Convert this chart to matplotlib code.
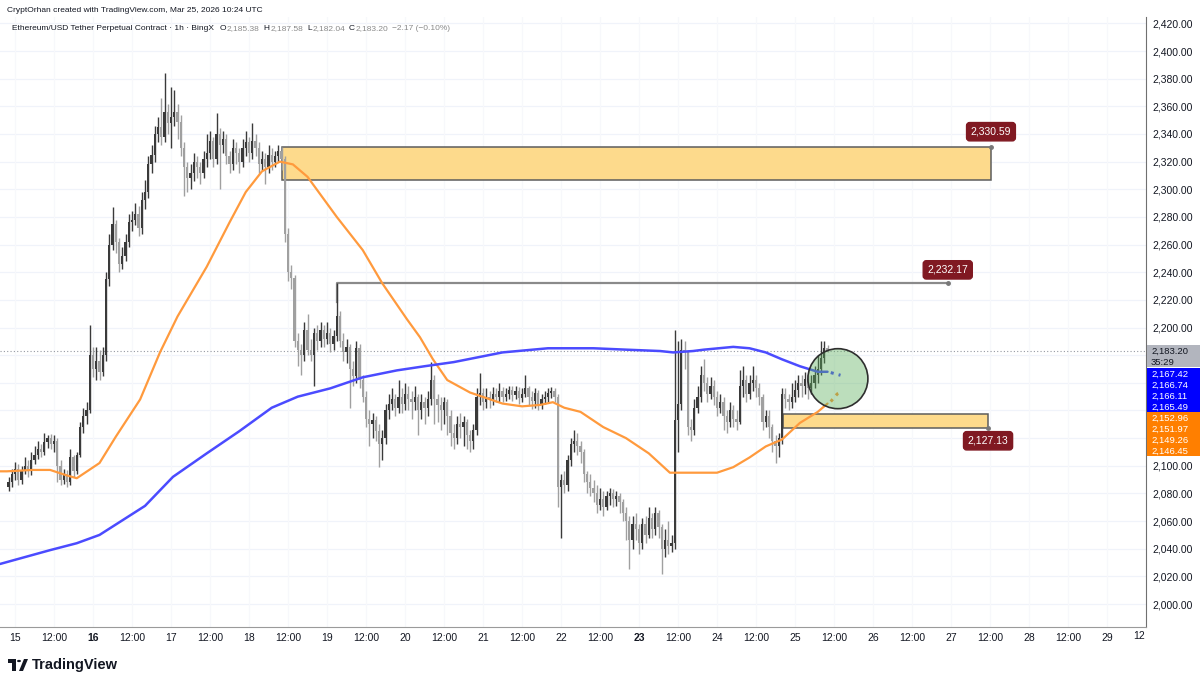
import matplotlib
matplotlib.use('Agg')
import matplotlib.pyplot as plt
from matplotlib.patches import Rectangle, Ellipse, Polygon, Circle
import numpy as np

plt.rcParams['font.family'] = ['Liberation Sans', 'DejaVu Sans']

# hourly candles, Mar 14 22:00 .. Mar 25 10:00 (x = hours since Mar 15 00:00)
first_open = 2085
closes = [
    2088, 2094,
    # Mar 15
    2098, 2090, 2097, 2100, 2096, 2104, 2108, 2112, 2110, 2117, 2120, 2116,
    2118, 2100, 2090, 2094, 2088, 2106, 2096, 2108, 2128, 2136, 2140, 2180,
    # Mar 16
    2170, 2176, 2168, 2180, 2235, 2260, 2275, 2262, 2246, 2252, 2262, 2276,
    2278, 2282, 2272, 2292, 2298, 2318, 2325, 2340, 2345, 2338, 2356, 2348,
    # Mar 17
    2352, 2356, 2349, 2330, 2316, 2308, 2312, 2320, 2316, 2312, 2322, 2326,
    2335, 2322, 2340, 2332, 2336, 2324, 2318, 2330, 2326, 2320, 2330, 2334,
    # Mar 18
    2326, 2335, 2330, 2318, 2322, 2316, 2325, 2320, 2324, 2328, 2322, 2268,
    2240, 2236, 2190, 2184, 2180, 2198, 2184, 2180, 2196, 2190, 2198, 2192,
    # Mar 19
    2196, 2188, 2194, 2208, 2190, 2182, 2186, 2170, 2165, 2185, 2162, 2150,
    2134, 2130, 2133, 2125, 2116, 2120, 2140, 2145, 2148, 2142, 2150, 2145,
    # Mar 20
    2152, 2148, 2146, 2150, 2140, 2146, 2142, 2148, 2162, 2148, 2144, 2140,
    2146, 2136, 2124, 2120, 2130, 2128, 2132, 2122, 2118, 2126, 2150, 2153,
    # Mar 21
    2146, 2150, 2148, 2152, 2150, 2154, 2150, 2152, 2155, 2151, 2154, 2149,
    2152, 2156, 2150, 2147, 2153, 2144, 2148, 2150, 2153, 2154, 2150, 2085,
    # Mar 22
    2090, 2086, 2104, 2116, 2118, 2114, 2110, 2094, 2088, 2084, 2080, 2072,
    2076, 2070, 2078, 2080, 2076, 2078, 2074, 2066, 2060, 2046, 2058, 2054,
    # Mar 23
    2044, 2058, 2050, 2062, 2054, 2066, 2056, 2040, 2046, 2042, 2044, 2133,
    2145, 2184, 2182, 2128, 2126, 2142, 2150, 2166, 2160, 2152, 2158, 2150,
    # Mar 24
    2142, 2146, 2136, 2132, 2140, 2134, 2132, 2158, 2162, 2152, 2160, 2162,
    2156, 2150, 2132, 2136, 2128, 2118, 2114, 2120, 2152, 2148, 2146, 2150,
    # Mar 25
    2155, 2160, 2158, 2163, 2156, 2160, 2166, 2170, 2178, 2185.38, 2183.20,
]
highs = [
    2092, 2098,
    2103, 2101, 2100, 2106, 2104, 2110, 2114, 2118, 2116, 2124, 2122, 2123,
    2122, 2120, 2104, 2098, 2097, 2112, 2108, 2110, 2132, 2142, 2146, 2202,
    2186, 2186, 2184, 2186, 2240, 2268, 2287, 2278, 2265, 2258, 2268, 2282,
    2284, 2290, 2288, 2298, 2307, 2324, 2332, 2346, 2352, 2366, 2384, 2362,
    2374, 2372, 2362, 2354, 2334, 2320, 2318, 2326, 2324, 2320, 2328, 2340,
    2342, 2338, 2355, 2344, 2342, 2340, 2328, 2336, 2334, 2330, 2336, 2342,
    2338, 2348, 2340, 2334, 2328, 2326, 2332, 2330, 2328, 2332, 2330.59, 2324,
    2272, 2245, 2238, 2196, 2188, 2204, 2210, 2192, 2200, 2202, 2204, 2202,
    2204, 2200, 2198, 2232.17, 2212, 2196, 2192, 2188, 2176, 2190, 2188, 2166,
    2154, 2140, 2138, 2136, 2130, 2126, 2145, 2152, 2156, 2152, 2162, 2156,
    2160, 2158, 2154, 2158, 2152, 2152, 2150, 2154, 2175, 2166, 2152, 2150,
    2150, 2148, 2140, 2130, 2136, 2138, 2136, 2134, 2126, 2130, 2156, 2167,
    2156, 2156, 2154, 2157, 2156, 2160, 2157, 2156, 2158, 2158, 2158, 2157,
    2156, 2166, 2158, 2154, 2156, 2155, 2152, 2154, 2156, 2157, 2156, 2152,
    2094, 2096, 2108, 2120, 2126, 2124, 2118, 2112, 2096, 2094, 2090, 2086,
    2084, 2082, 2082, 2084, 2083, 2082, 2080, 2076, 2070, 2064, 2064, 2066,
    2058, 2062, 2064, 2070, 2066, 2070, 2068, 2058, 2054, 2060, 2050, 2198,
    2190, 2192, 2190, 2184, 2134, 2148, 2158, 2172, 2177, 2164, 2164, 2162,
    2154, 2152, 2150, 2140, 2146, 2144, 2140, 2169, 2172, 2166, 2166, 2172,
    2166, 2160, 2152, 2140, 2140, 2130, 2122, 2124, 2156, 2156, 2152, 2160,
    2162, 2166, 2166, 2168, 2166, 2166, 2172, 2180, 2190, 2190, 2187.58,
]
lows = [
    2082, 2085,
    2090, 2086, 2087, 2094, 2092, 2093, 2101, 2105, 2106, 2108, 2113, 2112,
    2110, 2088, 2086, 2087, 2085, 2086, 2092, 2094, 2106, 2124, 2130, 2138,
    2164, 2162, 2162, 2165, 2176, 2230, 2256, 2254, 2240, 2242, 2248, 2258,
    2270, 2274, 2266, 2268, 2286, 2294, 2312, 2320, 2334, 2332, 2334, 2340,
    2330, 2346, 2336, 2324, 2295, 2298, 2300, 2306, 2308, 2304, 2308, 2316,
    2322, 2316, 2318, 2300, 2326, 2318, 2312, 2314, 2318, 2312, 2316, 2324,
    2320, 2322, 2324, 2312, 2314, 2304, 2312, 2314, 2316, 2320, 2314, 2262,
    2234, 2228, 2186, 2172, 2166, 2176, 2180, 2176, 2158, 2184, 2186, 2186,
    2188, 2182, 2184, 2190, 2186, 2176, 2174, 2142, 2158, 2160, 2156, 2146,
    2128, 2114, 2120, 2118, 2099, 2104, 2116, 2134, 2140, 2136, 2138, 2138,
    2140, 2140, 2134, 2140, 2122, 2134, 2130, 2136, 2144, 2130, 2132, 2126,
    2130, 2122, 2114, 2112, 2116, 2120, 2114, 2112, 2110, 2112, 2122, 2144,
    2140, 2142, 2142, 2144, 2146, 2146, 2146, 2147, 2148, 2147, 2148, 2145,
    2146, 2150, 2144, 2141, 2142, 2140, 2141, 2145, 2146, 2149, 2146, 2070,
    2048, 2080, 2082, 2100, 2110, 2108, 2102, 2088, 2080, 2078, 2074, 2066,
    2068, 2064, 2068, 2072, 2070, 2071, 2066, 2060, 2046, 2025, 2040, 2046,
    2036, 2040, 2044, 2048, 2048, 2050, 2048, 2022, 2034, 2036, 2038, 2040,
    2110, 2140, 2170, 2122, 2118, 2122, 2138, 2146, 2154, 2146, 2148, 2144,
    2136, 2138, 2126, 2124, 2128, 2128, 2126, 2130, 2150, 2146, 2148, 2154,
    2150, 2144, 2126, 2128, 2120, 2110, 2102, 2106, 2116, 2142, 2140, 2142,
    2146, 2150, 2150, 2152, 2148, 2152, 2156, 2160, 2166, 2174, 2182.04,
]

# moving averages (hour, value)
orange_h = [-4.6, -2.5, 5.5, 10.8, 16, 19, 26, 31, 38.5, 44.6, 50, 59, 66, 71, 76, 81.5,
            85.5, 90, 99, 107, 113, 120.6, 124.6, 128.6, 133, 140, 150, 156, 161.5,
            165.5, 169, 174, 181, 188, 195, 201.5, 205.5, 212, 216, 221, 226, 231,
            236, 241.5, 247, 250]
orange_v = [2096, 2096, 2097, 2097, 2093, 2091, 2102, 2121, 2148, 2182, 2208, 2244, 2276,
            2298, 2313, 2320, 2318, 2309, 2280, 2256, 2232, 2206, 2193, 2177, 2162,
            2153, 2145, 2143, 2144, 2146, 2142, 2139, 2128, 2120, 2109, 2095, 2095,
            2095, 2095, 2099, 2106, 2114, 2119, 2131, 2139, 2145]
blue_h = [-4.6, 10.8, 19, 26, 32, 40, 48.6, 59, 69, 79, 87, 97, 107, 117.5, 126, 135,
          150, 164, 178, 188, 198.5, 202.5, 208.6, 212, 221, 226, 231, 236, 241.5,
          247, 250]
blue_v = [2029, 2039, 2044, 2050, 2059, 2071, 2092, 2109, 2125, 2142, 2150, 2156, 2164,
          2169, 2172, 2175, 2182, 2185, 2185, 2184, 2183, 2182, 2183, 2184, 2186,
          2185, 2182, 2177, 2172, 2168, 2168]
proj_h = [251, 252, 253, 254]
blue_proj = [2167.42, 2166.74, 2166.11, 2165.49]
orange_proj = [2146.45, 2149.26, 2151.97, 2152.96]

last_price = 2183.20
countdown = '35:29'
ohlc = [('O', '2,185.38'), ('H', '2,187.58'), ('L', '2,182.04'), ('C', '2,183.20')]
change = '\u22122.17 (\u22120.10%)'

# drawings: (start hour, end hour, low, high)
supply_zone = (82.2, 300.3, 2306.6, 2330.59)
demand_zone = (236.3, 299.4, 2127.13, 2137.5)
level_line = (99, 287, 2232.17)
circle_center = (253.2, 2163)

W, H = 1200, 685
fig = plt.figure(figsize=(12, 6.85), dpi=100)
ax = fig.add_axes([0, 1 - 627 / H, 1146 / W, (627 - 17) / H])
ax.set_xlim(-4.62, 348.0)
ax.set_ylim(1983.4, 2424.6)

# grid
for p in range(2000, 2421, 20):
    ax.axhline(p, color='#f0f3fa', lw=0.9, zorder=0)
for h in range(0, 348, 12):
    ax.axvline(h, color='#f7f8fb', lw=0.9, zorder=0)

# zones
z = supply_zone
ax.add_patch(Rectangle((z[0], z[2]), z[1] - z[0], z[3] - z[2], fc='#fdda8c',
                       ec='#5d5d5d', lw=1.1, zorder=1))
ax.plot([z[1]], [z[3]], 'o', ms=2.5, color='#787878', zorder=5)
z = demand_zone
ax.add_patch(Rectangle((z[0], z[2]), z[1] - z[0], z[3] - z[2], fc='#fdda8c',
                       ec='#5d5d5d', lw=1.1, zorder=1))
ax.plot([z[1]], [z[2]], 'o', ms=2.5, color='#787878', zorder=5)
ax.plot([level_line[0], level_line[0], level_line[1]],
        [level_line[2] - 14, level_line[2], level_line[2]], color='#8a8a8a', lw=1.6, zorder=2)
ax.plot([level_line[1]], [level_line[2]], 'o', ms=2.5, color='#787878', zorder=5)

# candles
closes_a = np.array(closes)
opens_a = np.array([first_open] + closes[:-1])
hours = np.arange(-2, -2 + len(closes))
up = closes_a >= opens_a
cols = np.where(up, '#3a3a3a', '#a0a0a0')
ax.vlines(hours, lows, highs, colors=cols, lw=1, zorder=3)
body = np.maximum(np.abs(closes_a - opens_a), 0.7)
ax.bar(hours, body, bottom=np.minimum(opens_a, closes_a), width=0.7, color=cols,
       linewidth=0, zorder=3)

# moving averages
ax.plot(orange_h, orange_v, color='#ff9a3d', lw=1.6, zorder=4, solid_capstyle='round')
ax.plot(blue_h, blue_v, color='#4b4bff', lw=1.8, zorder=4, solid_capstyle='round')
ax.plot(proj_h, orange_proj, ':', color='#ff9a3d', lw=2.2, zorder=4)
ax.plot(proj_h, blue_proj, ':', color='#4b4bff', lw=2.2, zorder=4)

ax.axhline(last_price, color='#9598a1', lw=0.8, ls=(0, (1, 2)), zorder=2)

ax.add_patch(Ellipse(circle_center, 60 / 3.25, 60 / 1.3826, fc=(0.35, 0.68, 0.35, 0.4),
                     ec='#2e2e2e', lw=1.2, zorder=6))

# price tags on drawings
tag = dict(boxstyle='round,pad=0.4,rounding_size=0.3', fc='#801922', ec='#801922')
ax.annotate('2,330.59', (supply_zone[1], supply_zone[3]), xytext=(0, 11),
            textcoords='offset points', ha='center', va='center', color='white',
            fontsize=7.5, bbox=tag, zorder=7)
ax.annotate('2,232.17', (level_line[1], level_line[2]), xytext=(0, 9.5),
            textcoords='offset points', ha='center', va='center', color='white',
            fontsize=7.5, bbox=tag, zorder=7)
ax.annotate('2,127.13', (demand_zone[1], demand_zone[2]), xytext=(0, -9),
            textcoords='offset points', ha='center', va='center', color='white',
            fontsize=7.5, bbox=tag, zorder=7)

# axes styling
for s in ['left', 'top']:
    ax.spines[s].set_visible(False)
ax.spines['right'].set_color('#707070')
ax.spines['bottom'].set_color('#9a9a9a')
ax.yaxis.tick_right()
yt = list(range(2000, 2421, 20))
ax.set_yticks(yt)
ax.tick_params(axis='y', length=0, pad=4.5, labelsize=7.5, labelcolor='#131722')
xt = list(range(0, 337, 12))
xl = []
for h in xt:
    xl.append(str(15 + h // 24) if h % 24 == 0 else '12:00')
ax.set_xticks(xt)
ax.set_xticklabels(xl)
ax.tick_params(axis='x', length=0, pad=4, labelsize=7.5, labelcolor='#131722')
for t in ax.get_xticklabels():
    if t.get_text() in ('16', '23'):
        t.set_fontweight('bold')
fig.text(1133 / W, 1 - 636 / H, '12', fontsize=7.5, color='#131722', va='center')

# right-axis value boxes
fig.canvas.draw()
rend = fig.canvas.get_renderer()
y0 = H - ax.transData.transform((0, last_price))[1]
row = 11.0
bfs = 6.8
stack_top = y0 - 6
stack_bot = y0 + 17 + row * 8

# price scale labels hidden where the value boxes sit (as TradingView does)
ylab = []
for p in yt:
    yp = H - ax.transData.transform((0, p))[1]
    ylab.append('' if stack_top - 5 < yp < stack_bot + 5 else '{:,.2f}'.format(p))
ax.set_yticklabels(ylab)

def fbox(ytop, hgt, color):
    fig.patches.append(Rectangle((1147 / W, 1 - (ytop + hgt) / H), 53 / W, hgt / H,
                                 transform=fig.transFigure, fc=color, ec='none',
                                 zorder=10))

def btext(y, s, color):
    # baseline placed so the digits sit in the middle of their row
    fig.text(1151 / W, 1 - (y + 3.4) / H, s, fontsize=bfs, color=color,
             va='baseline', zorder=11)

fbox(stack_top, 22, '#b2b5be')
btext(y0, '{:,.2f}'.format(last_price), '#131722')
btext(y0 + 10.5, countdown, '#131722')
ytop = y0 + 17
fbox(ytop, row * 4, '#0000ff')
for i, v in enumerate(sorted(blue_proj, reverse=True)):
    btext(ytop + row * (i + 0.5), '{:,.2f}'.format(v), 'white')
ytop += row * 4
fbox(ytop, row * 4, '#ff7f00')
for i, v in enumerate(sorted(orange_proj, reverse=True)):
    btext(ytop + row * (i + 0.5), '{:,.2f}'.format(v), 'white')

# header
fs = 6.0
fig.text(7 / W, 1 - 12 / H, 'CryptOrhan created with TradingView.com, Mar 25, 2026 10:24 UTC',
         fontsize=fs, color='#131722', va='baseline')

def chain(x, s, color, gap):
    t = fig.text(x / W, 1 - 30 / H, s, fontsize=fs, color=color, va='baseline')
    return t.get_window_extent(rend).x1 + gap

x = chain(12, 'Ethereum/USD Tether Perpetual Contract \u00b7 1h \u00b7 BingX', '#131722', 6)
for k, v in ohlc:
    x = chain(x, k, '#131722', 0.5)
    x = chain(x, v, '#8a8a8a', 4)
chain(x, change, '#8a8a8a', 0)

# TradingView logo
fig.patches.append(Polygon([(8 / W, 1 - 659 / H), (16 / W, 1 - 659 / H), (16 / W, 1 - 671 / H),
                            (12 / W, 1 - 671 / H), (12 / W, 1 - 663 / H), (8 / W, 1 - 663 / H)],
                           closed=True, transform=fig.transFigure, fc='#131722', ec='none'))
fig.patches.append(Circle((19 / W, 1 - 661 / H), 2 / W, transform=fig.transFigure,
                          fc='#131722', ec='none'))
fig.patches.append(Polygon([(24 / W, 1 - 659 / H), (28 / W, 1 - 659 / H), (23 / W, 1 - 671 / H),
                            (19 / W, 1 - 671 / H)],
                           closed=True, transform=fig.transFigure, fc='#131722', ec='none'))
fig.text(32 / W, 1 - 665 / H, 'TradingView', fontsize=10.5, fontweight='bold',
         color='#131722', va='center')

fig.savefig('out.png', dpi=100)
